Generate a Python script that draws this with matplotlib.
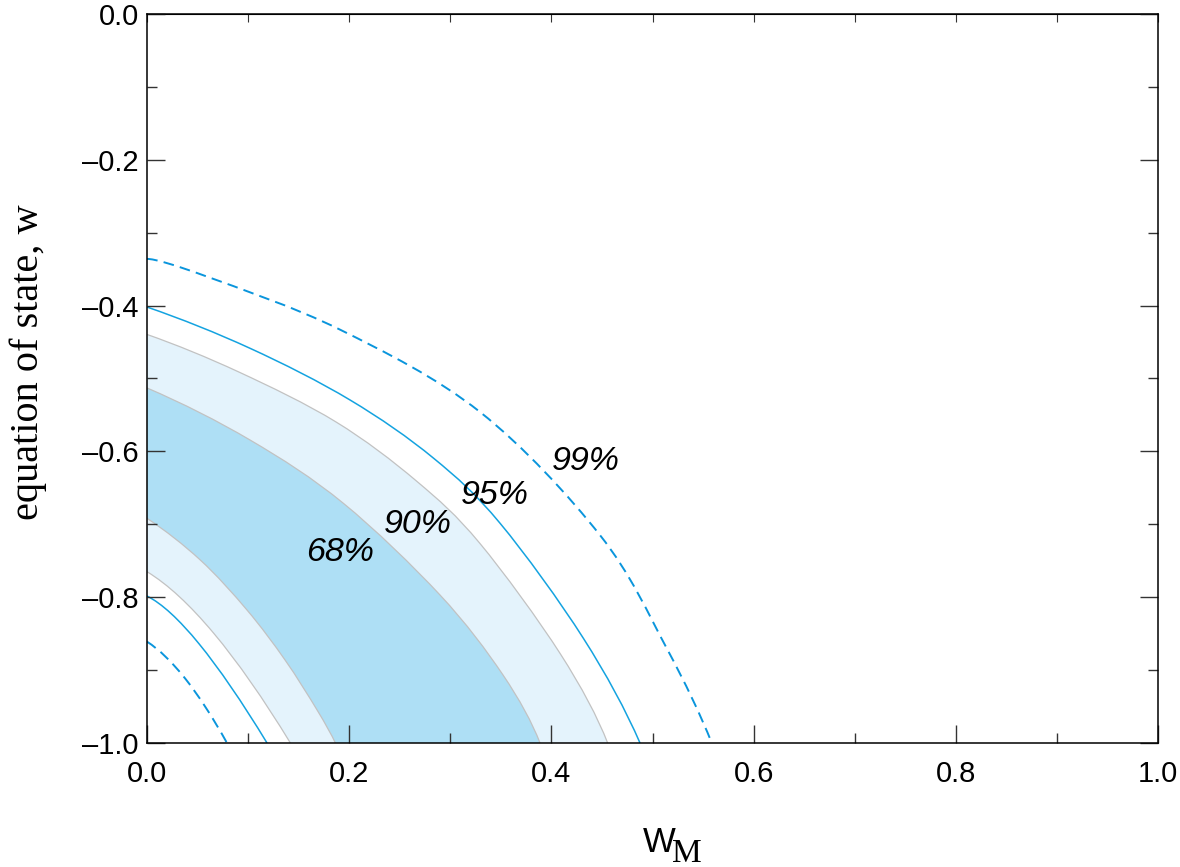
import matplotlib
matplotlib.use("Agg")
import matplotlib.pyplot as plt
from matplotlib.path import Path
from matplotlib.patches import PathPatch
import numpy as np

# contour points (Omega_M, w)
c68_out_x = [0.000, 0.1019, 0.1942, 0.2898, 0.3521, 0.3887]
c68_out_y = [-0.513, -0.5844, -0.6712, -0.797, -0.9067, -1.000]
c68_in_x = [0.000, 0.0527, 0.0989, 0.1365, 0.1682, 0.1863]
c68_in_y = [-0.6918, -0.749, -0.8176, -0.8861, -0.9547, -1.000]

c90_out_x = [0.000, 0.0908, 0.1870, 0.2662, 0.3290, 0.4089, 0.4556]
c90_out_y = [-0.4396, -0.4911, -0.5597, -0.6403, -0.7258, -0.8779, -1.000]
c90_in_x = [0.000, 0.066, 0.1418]
c90_in_y = [-0.765, -0.8495, -1.000]

c95_out_x = [0.000, 0.1019, 0.2008, 0.2832, 0.3492, 0.4316, 0.4876]
c95_out_y = [-0.402, -0.4586, -0.5295, -0.6091, -0.6986, -0.8564, -1.000]
c95_in_x = [0.000, 0.0515, 0.1187]
c95_in_y = [-0.7984, -0.8640, -1.000]

c99_out_x = [0.000, 0.0588, 0.1909, 0.3294, 0.4481, 0.5140, 0.5586]
c99_out_y = [-0.336, -0.360, -0.433, -0.546, -0.715, -0.870, -1.000]
c99_in_x = [0.000, 0.038, 0.0791]
c99_in_y = [-0.861, -0.912, -1.000]

labels = ['68%', '90%', '95%', '99%']
label_x = [0.191, 0.268, 0.344, 0.434]
label_y = [-0.739, -0.700, -0.660, -0.614]

dark = '#aedff5'
light = '#e4f3fc'
edge = '#c2c2c2'
blue = '#14a3e0'
dblue = '#0a95dc'


def smooth(xs, ys):
    # Catmull-Rom through the points, drawn as cubic bezier pieces
    p = np.column_stack([xs, ys]).astype(float)
    first = 3 * p[0] - 3 * p[1] + p[2]
    last = 3 * p[-1] - 3 * p[-2] + p[-3]
    q = np.vstack([first, p, last])
    verts = [p[0]]
    codes = [Path.MOVETO]
    for i in range(1, len(q) - 2):
        c1 = q[i] + (q[i + 1] - q[i - 1]) / 6.0
        c2 = q[i + 1] - (q[i + 2] - q[i]) / 6.0
        verts += [c1, c2, q[i + 1]]
        codes += [Path.CURVE4] * 3
    return verts, codes


def band(ox, oy, ix, iy):
    v1, k1 = smooth(ox, oy)
    v2, k2 = smooth(ix[::-1], iy[::-1])
    k2[0] = Path.LINETO
    verts = v1 + v2 + [v1[0]]
    codes = k1 + k2 + [Path.CLOSEPOLY]
    return Path(verts, codes)


fig = plt.figure(figsize=(11.8, 8.67), dpi=100)
ax = fig.add_axes([0.1246, 0.143, 0.8568, 0.8409])

ax.add_patch(PathPatch(band(c90_out_x, c90_out_y, c90_in_x, c90_in_y), fc=light, lw=0))
ax.add_patch(PathPatch(band(c68_out_x, c68_out_y, c68_in_x, c68_in_y), fc=dark, lw=0))

for xs, ys in [(c68_out_x, c68_out_y), (c68_in_x, c68_in_y),
               (c90_out_x, c90_out_y), (c90_in_x, c90_in_y)]:
    v, k = smooth(xs, ys)
    ax.add_patch(PathPatch(Path(v, k), fill=False, ec=edge, lw=0.9))

for xs, ys in [(c95_out_x, c95_out_y), (c95_in_x, c95_in_y)]:
    v, k = smooth(xs, ys)
    ax.add_patch(PathPatch(Path(v, k), fill=False, ec=blue, lw=1.1))

for xs, ys in [(c99_out_x, c99_out_y), (c99_in_x, c99_in_y)]:
    v, k = smooth(xs, ys)
    ax.add_patch(PathPatch(Path(v, k), fill=False, ec=dblue, lw=1.4, ls=(0, (5.5, 3.2))))

for t, x, y in zip(labels, label_x, label_y):
    ax.text(x, y, t, fontsize=24.5, style='italic', family='Liberation Sans',
            ha='center', va='center')

ax.set_xlim(0, 1)
ax.set_ylim(-1, 0)
xt = np.arange(0, 1.01, 0.2)
yt = np.arange(-1, 0.01, 0.2)
ax.set_xticks(xt)
ax.set_xticks(np.arange(0.1, 1.0, 0.2), minor=True)
ax.set_yticks(yt)
ax.set_yticks(np.arange(-0.9, 0.0, 0.2), minor=True)
ax.set_xticklabels(['%.1f' % v for v in xt])
ax.set_yticklabels(['\u2013%.1f' % abs(v) if v < -0.01 else '0.0' for v in yt])

ax.tick_params(which='both', direction='in', right=True, top=False, color='#333333',
               labelsize=21, width=1.0)
ax.tick_params(which='major', length=13)
ax.tick_params(which='minor', length=7.5)
ax.tick_params(axis='x', pad=12)
ax.tick_params(axis='y', pad=6)
for lab in ax.get_xticklabels() + ax.get_yticklabels():
    lab.set_family('Liberation Sans')

top = ax.secondary_xaxis('top')
top.set_xticks(np.arange(0, 1.01, 0.1))
top.tick_params(direction='in', length=6, color='#333333', labeltop=False)

for s in ax.spines.values():
    s.set_linewidth(1.1)

fig.text(28 / 1180, 0.582, 'equation of state, w', family='Liberation Serif',
         fontsize=29, rotation=90, ha='center', va='center')
fig.text(643 / 1180, 1 - 851.7 / 867, 'W', family='Liberation Sans', fontsize=25,
         ha='left', va='baseline')
fig.text(672 / 1180, 1 - 861.7 / 867, 'M', family='Liberation Serif', fontsize=24,
         ha='left', va='baseline')

fig.savefig('out.png', dpi=100)
